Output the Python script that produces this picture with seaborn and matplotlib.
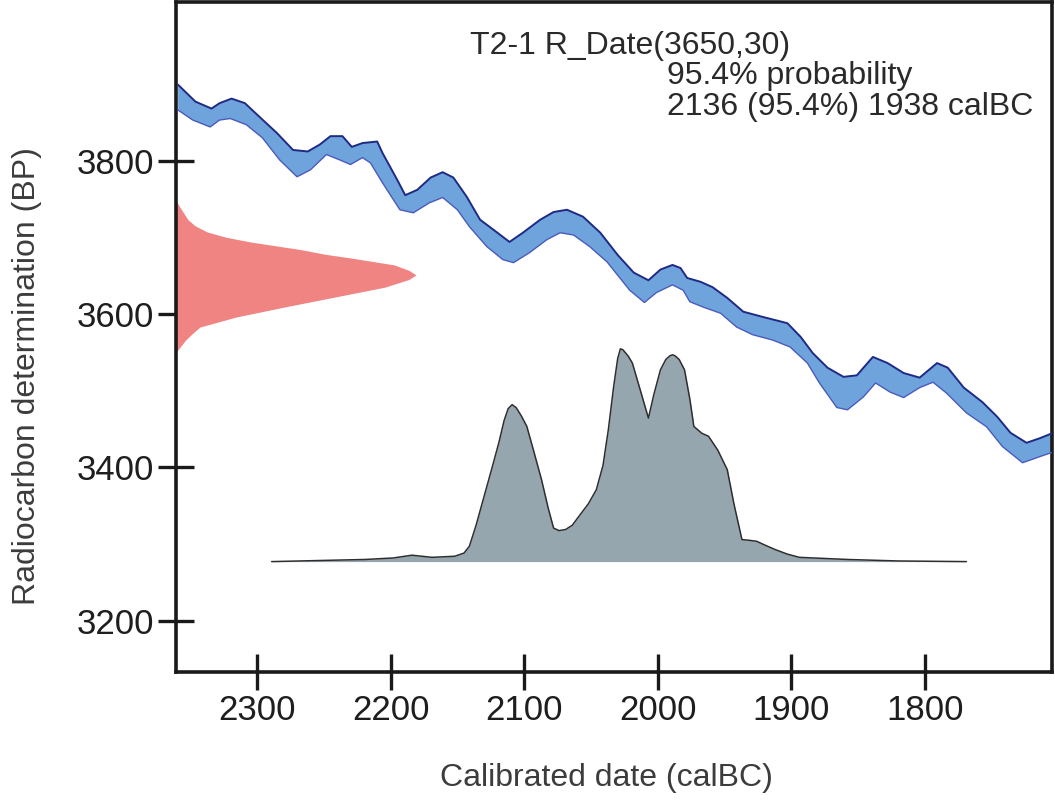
import numpy as np
import matplotlib
matplotlib.use("Agg")
import matplotlib.pyplot as plt
import seaborn as sns

# calibration curve band: upper and lower edges (calBC, BP)
curve_upper_year = [2359, 2346, 2334, 2328, 2319, 2309, 2298, 2285, 2273, 2262, 2253, 2245,
                    2236, 2229, 2221, 2210, 2206, 2195, 2189, 2180, 2170, 2161, 2153, 2143,
                    2133, 2120, 2111, 2101, 2088, 2078, 2068, 2056, 2043, 2030, 2018, 2007,
                    1998, 1989, 1983, 1978, 1968, 1959, 1948, 1936, 1921, 1903, 1893, 1884,
                    1873, 1861, 1851, 1839, 1828, 1816, 1804, 1791, 1783, 1771, 1757, 1746,
                    1736, 1724, 1714, 1704]
curve_upper_bp = [3899, 3877, 3868, 3875, 3881, 3875, 3857, 3836, 3814, 3812, 3821, 3832,
                  3832, 3818, 3823, 3825, 3810, 3775, 3755, 3762, 3778, 3785, 3778, 3753,
                  3723, 3706, 3694, 3706, 3723, 3733, 3736, 3727, 3706, 3677, 3654, 3644,
                  3658, 3664, 3660, 3647, 3642, 3635, 3621, 3603, 3596, 3588, 3570, 3549,
                  3530, 3518, 3520, 3544, 3536, 3523, 3517, 3536, 3530, 3504, 3485, 3466,
                  3445, 3432, 3438, 3445]
curve_lower_year = [2359, 2348, 2335, 2328, 2320, 2308, 2296, 2283, 2270, 2260, 2248, 2238,
                    2230, 2221, 2215, 2206, 2193, 2183, 2171, 2161, 2150, 2141, 2128, 2116,
                    2108, 2096, 2083, 2073, 2063, 2051, 2038, 2021, 2010, 2001, 1989, 1981,
                    1976, 1966, 1953, 1941, 1929, 1914, 1901, 1888, 1879, 1866, 1858, 1846,
                    1837, 1826, 1816, 1804, 1794, 1784, 1769, 1754, 1742, 1727, 1714, 1704]
curve_lower_bp = [3866, 3853, 3844, 3853, 3855, 3847, 3830, 3801, 3779, 3788, 3808, 3801,
                  3795, 3804, 3797, 3771, 3736, 3732, 3745, 3752, 3736, 3714, 3688, 3671,
                  3667, 3680, 3697, 3706, 3703, 3688, 3668, 3631, 3615, 3628, 3638, 3631,
                  3616, 3609, 3601, 3583, 3573, 3566, 3557, 3536, 3510, 3478, 3475, 3492,
                  3510, 3498, 3491, 3504, 3511, 3497, 3471, 3453, 3427, 3406, 3414, 3420]

# radiocarbon measurement R_Date(3650,30)
date_bp = [3550, 3558, 3566, 3575, 3583, 3596, 3609, 3622, 3635, 3645, 3651, 3657, 3664,
           3673, 3678, 3684, 3694, 3700, 3707, 3715, 3723, 3735, 3748]
date_density = [0.0, 0.02, 0.04, 0.07, 0.10, 0.25, 0.45, 0.66, 0.87, 0.97, 1.0, 0.97, 0.91,
                0.73, 0.62, 0.52, 0.31, 0.21, 0.13, 0.08, 0.05, 0.025, 0.0]

# calibrated date distribution
cal_year = [2289, 2219, 2198, 2184, 2169, 2152, 2145, 2141, 2136, 2130, 2124, 2119,
            2115, 2112, 2109, 2106, 2102, 2098, 2093, 2087, 2082, 2078, 2074, 2069, 2064,
            2059, 2052, 2046, 2041, 2037, 2033, 2030, 2028, 2026, 2022, 2019, 2013, 2007,
            2003, 1998, 1994, 1991, 1989, 1987, 1984, 1980, 1976, 1973, 1967, 1962, 1955,
            1948, 1943, 1937, 1932, 1926, 1919, 1912, 1903, 1894, 1876, 1858, 1820, 1769]
cal_prob = [0.0, 0.01, 0.017, 0.03, 0.02, 0.025, 0.04, 0.072, 0.17, 0.305, 0.44, 0.555,
            0.66, 0.715, 0.734, 0.72, 0.68, 0.632, 0.52, 0.383, 0.25, 0.157, 0.145, 0.15,
            0.17, 0.212, 0.27, 0.336, 0.45, 0.617, 0.82, 0.95, 0.995, 0.99, 0.96, 0.928,
            0.80, 0.671, 0.78, 0.897, 0.945, 0.962, 0.967, 0.962, 0.945, 0.897, 0.76, 0.632,
            0.60, 0.586, 0.52, 0.43, 0.27, 0.103, 0.10, 0.095, 0.075, 0.056, 0.035, 0.02,
            0.015, 0.01, 0.003, 0.0]

x_ticks = [2300, 2200, 2100, 2000, 1900, 1800]
y_ticks = [3200, 3400, 3600, 3800]

label_lines = ["T2-1 R_Date(3650,30)", "95.4% probability", "2136 (95.4%) 1938 calBC"]

sns.set_style("white")
plt.rcParams["font.family"] = ["Liberation Sans", "DejaVu Sans"]

fig = plt.figure(figsize=(10.55, 8), dpi=100)
ax = fig.add_axes([0.1668, 0.16, 0.8303, 0.8375])

# calibration curve
band_x = np.r_[curve_upper_year, curve_lower_year[::-1]]
band_y = np.r_[curve_upper_bp, curve_lower_bp[::-1]]
ax.fill(band_x, band_y, color="#6ea3dc", lw=0, zorder=2)
sns.lineplot(x=curve_upper_year, y=curve_upper_bp, ax=ax, color="#1f2a85", lw=1.4, zorder=3)
sns.lineplot(x=curve_lower_year, y=curve_lower_bp, ax=ax, color="#4a5bbd", lw=1.0, zorder=3)

# measured date on the y axis
ax.fill_betweenx(date_bp, 0, np.array(date_density) * 0.274,
                 transform=ax.get_yaxis_transform(), color="#f08482", lw=0, zorder=2)

# calibrated distribution
base_bp = 3277
peak_h = 279
cal_bp = base_bp + np.array(cal_prob) * peak_h
ax.fill_between(cal_year, base_bp, cal_bp, color="#96a6af", lw=0, zorder=2)
sns.lineplot(x=cal_year, y=cal_bp, ax=ax, color="#2e2e2e", lw=1.1, zorder=3)

ax.set_xlim(2360.6, 1705)
ax.set_ylim(3133, 4007)
ax.set_xticks(x_ticks)
ax.set_yticks(y_ticks)
ax.tick_params(bottom=True, left=True, direction="inout", length=26, width=2.4,
               color="#1a1a1a", labelsize=25, labelcolor="#1e1e1e", pad=3)
for sp in ax.spines.values():
    sp.set_linewidth(2.6)
    sp.set_color("#1a1a1a")

ax.set_xlabel("Calibrated date (calBC)", fontsize=23, color="#3c3c3c")
ax.set_ylabel("Radiocarbon determination (BP)", fontsize=23, color="#3c3c3c")
ax.xaxis.set_label_coords(0.491, -0.158)
ax.xaxis.label.set_verticalalignment("center")
ax.yaxis.set_label_coords(-0.170, 0.441)
ax.yaxis.label.set_verticalalignment("center")

ax.text(0.3356, 0.934, label_lines[0], transform=ax.transAxes, fontsize=23,
        color="#2a2a2a", va="center", ha="left")
ax.text(0.5605, 0.889, label_lines[1], transform=ax.transAxes, fontsize=23,
        color="#2a2a2a", va="center", ha="left")
ax.text(0.5605, 0.843, label_lines[2], transform=ax.transAxes, fontsize=23,
        color="#2a2a2a", va="center", ha="left")

fig.savefig("out.png", dpi=100)
